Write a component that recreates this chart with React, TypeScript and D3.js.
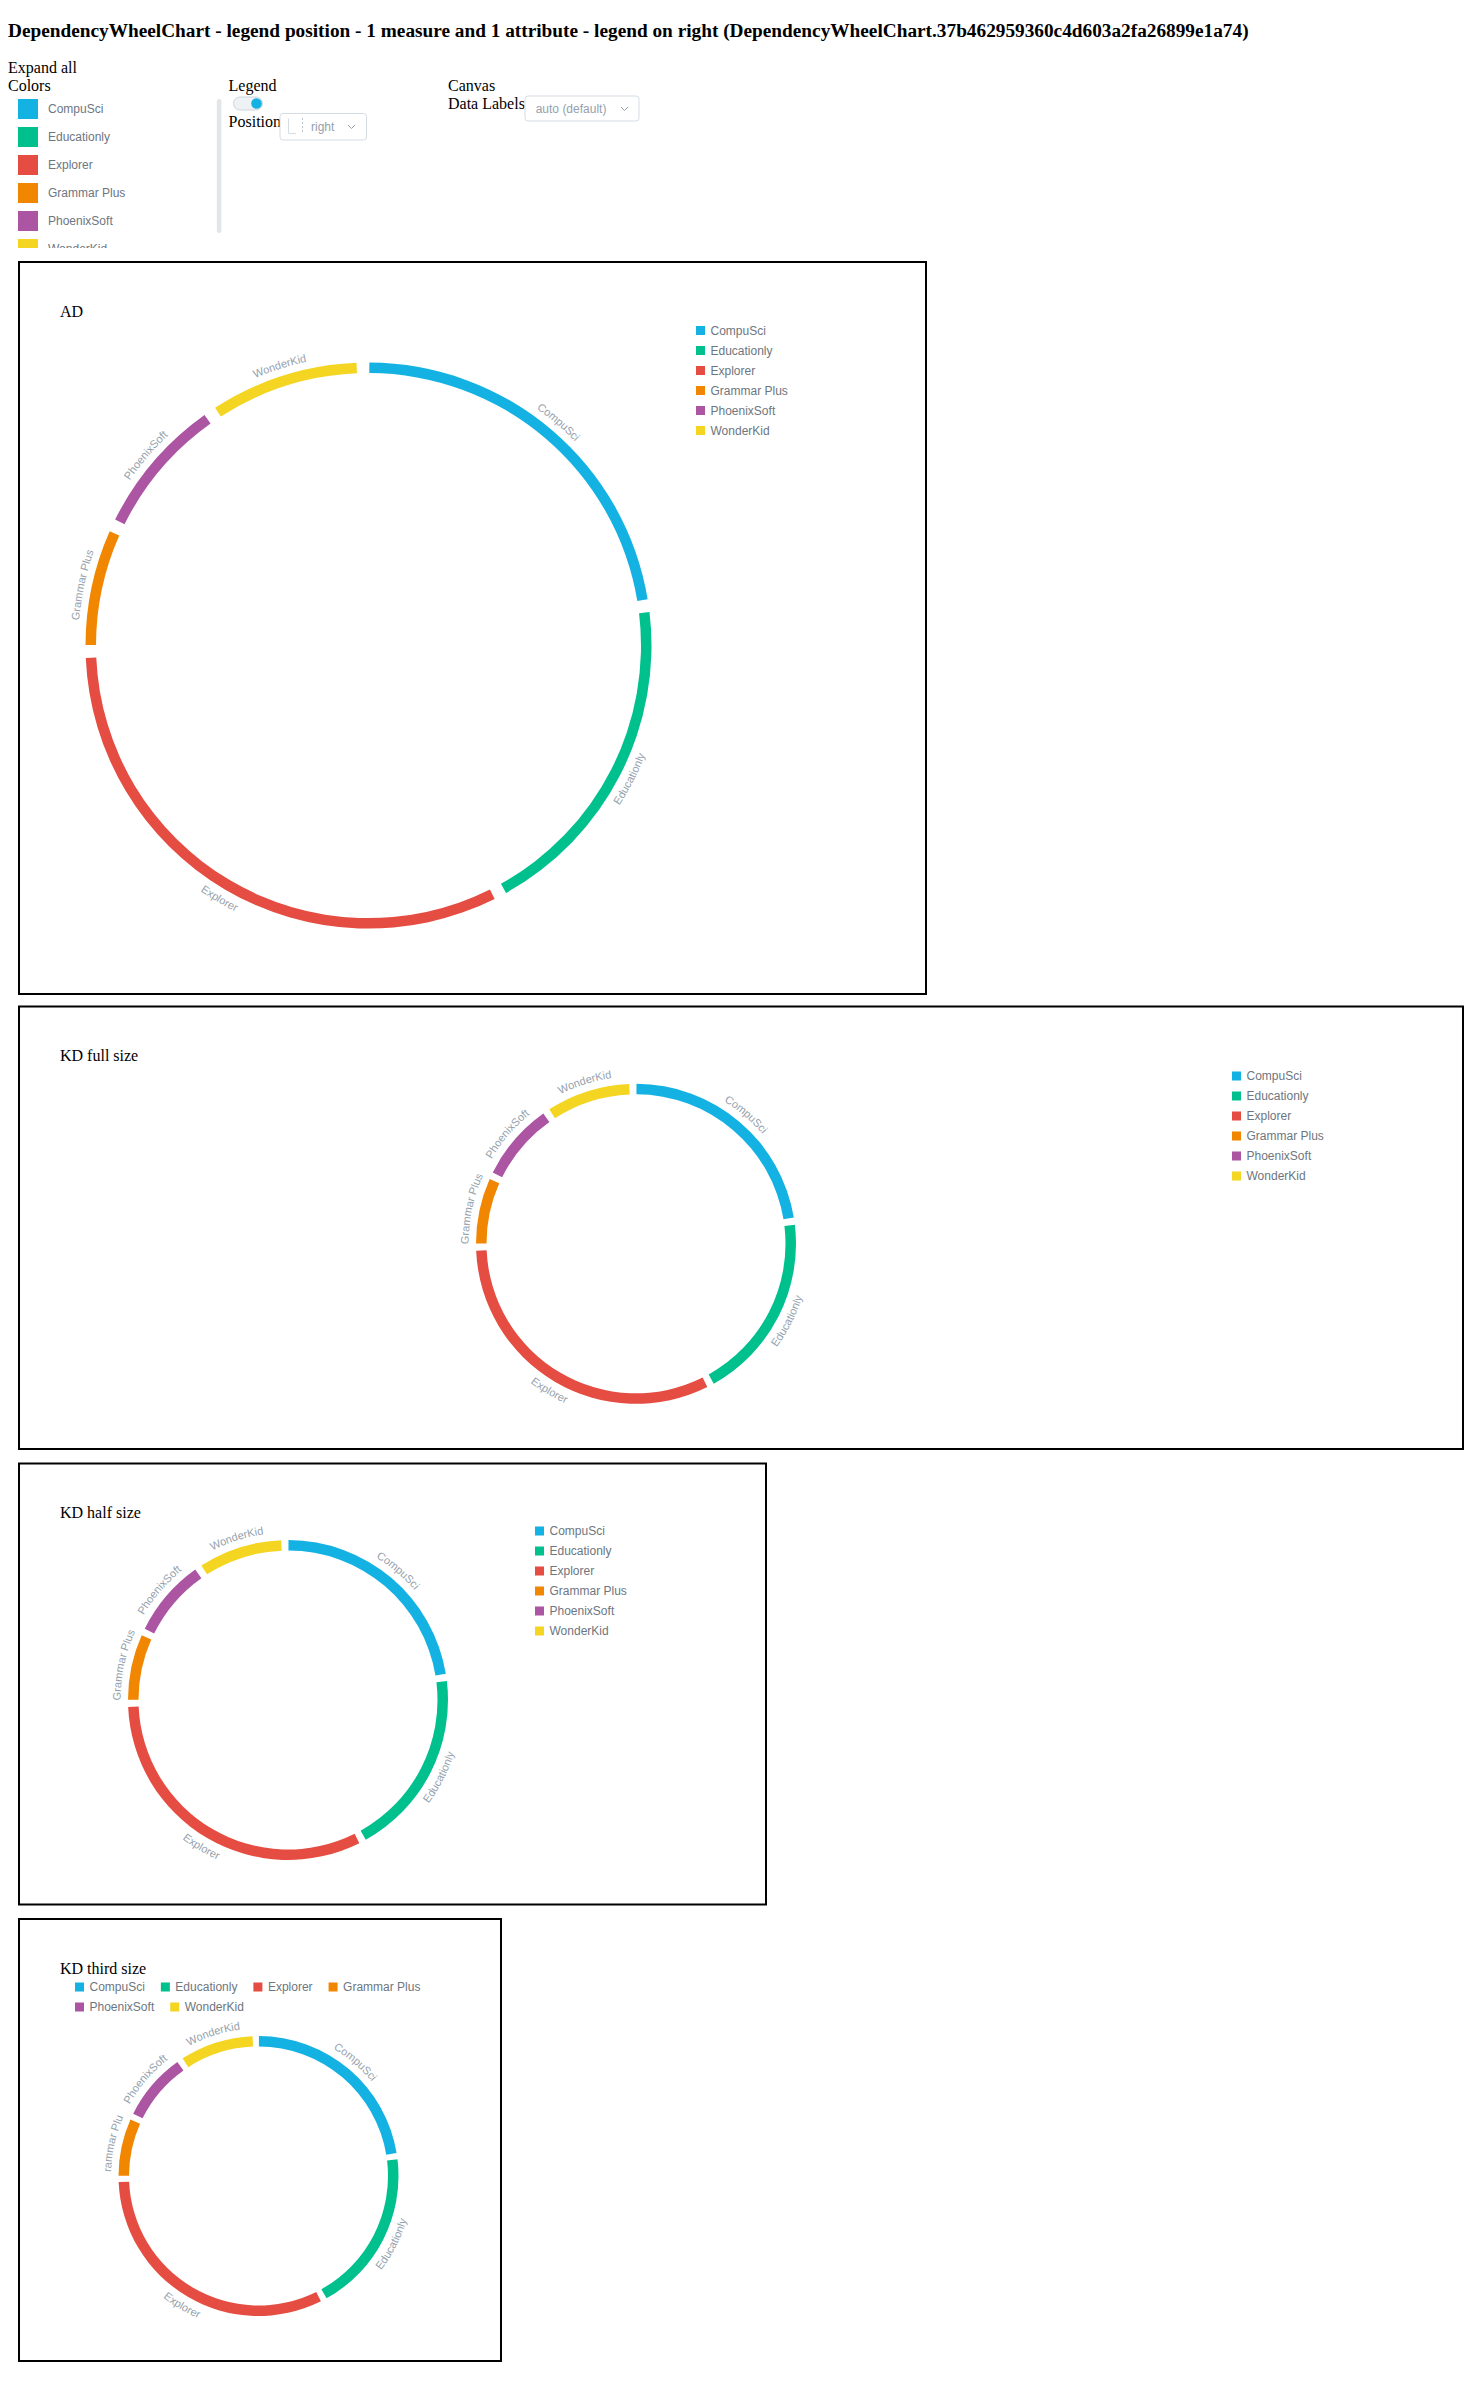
import React from 'react';
import * as d3 from 'd3';

// Product attribute and the single measure (amount per product)
const products = ['CompuSci', 'Educationly', 'Explorer', 'Grammar Plus', 'PhoenixSoft', 'WonderKid'];
const amounts = [27222899.64, 22946895.47, 38596194.86, 8042031.92, 9525857.91, 10291576.74];
const colors = ['#14b2e2', '#00c18d', '#e54d42', '#f18600', '#ab55a3', '#f4d521'];

const pageTitle =
  'DependencyWheelChart - legend position - 1 measure and 1 attribute - legend on right (DependencyWheelChart.37b462959360c4d603a2fa26899e1a74)';

// chart boxes: position, wheel centre/radius (relative to box) and legend placement
const boxes = [
  { id: 'ad', title: 'AD', x: 18, y: 261, w: 909, h: 734, cx: 350.5, cy: 384.6, r: 283, legend: 'right', lx: 678, ly: 69.5 },
  { id: 'full', title: 'KD full size', x: 18, y: 1005.5, w: 1446, h: 444.5, cx: 618, cy: 238.3, r: 160, legend: 'right', lx: 1214, ly: 70.5 },
  { id: 'half', title: 'KD half size', x: 18, y: 1462.5, w: 749, h: 443, cx: 270, cy: 237.5, r: 160, legend: 'right', lx: 517, ly: 68.5 },
  { id: 'third', title: 'KD third size', x: 18, y: 1918, w: 484, h: 444, cx: 240.5, cy: 258, r: 140, legend: 'top', lx: 57, ly: 69 },
];

const FONT = 'Arial, "Liberation Sans", sans-serif';
const SERIF = '"Liberation Serif", "Times New Roman", serif';
const legendColor = '#6d7680';
const labelColor = '#94a1ad';
const RING = 10.5;
const PAD = (2.6 * Math.PI) / 180;

let ctx: CanvasRenderingContext2D | null = null;
function textWidth(s: string, font = `12px ${FONT}`) {
  if (!ctx) ctx = document.createElement('canvas').getContext('2d');
  if (!ctx) return s.length * 6.5;
  ctx.font = font;
  return ctx.measureText(s).width;
}

function Wheel({ id, r }: { id: string; r: number }) {
  const pie = d3.pie<number>().sort(null).value(d => d).padAngle(PAD);
  const arcs = pie(amounts);
  const arc = d3.arc<any>().innerRadius(r - RING).outerRadius(r).padAngle(0);

  return (
    <g>
      {arcs.map((a, i) => {
        // node starts at its slot start, padding follows it
        const s = a.startAngle + 0.003;
        const e = a.endAngle - PAD + 0.003;
        const mid = (s + e) / 2;
        const flip = mid > Math.PI / 2 && mid < (3 * Math.PI) / 2;
        const lr = flip ? r + 14.5 : r + 7.5;
        const p = d3.path();
        if (flip) p.arc(0, 0, lr, e - Math.PI / 2, s - Math.PI / 2, true);
        else p.arc(0, 0, lr, s - Math.PI / 2, e - Math.PI / 2, false);
        const pid = `lp-${id}-${i}`;
        return (
          <g key={products[i]}>
            <path d={arc({ startAngle: s, endAngle: e }) || ''} fill={colors[i]} />
            <path id={pid} d={p.toString()} fill="none" stroke="none" />
            <text fontFamily={FONT} fontSize={11} fill={labelColor}>
              <textPath href={`#${pid}`} startOffset="50%" textAnchor="middle">
                {products[i]}
              </textPath>
            </text>
          </g>
        );
      })}
    </g>
  );
}

function Legend({ mode, maxW }: { mode: string; maxW: number }) {
  if (mode === 'right') {
    return (
      <g>
        {products.map((p, i) => (
          <g key={p} transform={`translate(0,${i * 20})`}>
            <rect x={0} y={-4.5} width={9} height={9} fill={colors[i]} />
            <text x={14.5} y={0} dy="0.35em" fontFamily={FONT} fontSize={12} fill={legendColor}>
              {p}
            </text>
          </g>
        ))}
      </g>
    );
  }
  // horizontal legend that wraps into rows
  let x = 0;
  let row = 0;
  const items = products.map((p, i) => {
    const w = 14.5 + textWidth(p);
    if (x > 0 && x + w > maxW) {
      x = 0;
      row += 1;
    }
    const item = { p, i, x, y: row * 20 };
    x += w + 16;
    return item;
  });
  return (
    <g>
      {items.map(it => (
        <g key={it.p} transform={`translate(${it.x},${it.y})`}>
          <rect x={0} y={-4.5} width={9} height={9} fill={colors[it.i]} />
          <text x={14.5} y={0} dy="0.35em" fontFamily={FONT} fontSize={12} fill={legendColor}>
            {it.p}
          </text>
        </g>
      ))}
    </g>
  );
}

function Controls() {
  return (
    <g>
      <text x={8} y={73.3} fontFamily={SERIF} fontSize={16}>Expand all</text>
      <text x={8} y={90.6} fontFamily={SERIF} fontSize={16}>Colors</text>
      <clipPath id="colorsClip">
        <rect x={0} y={95} width={214} height={153} />
      </clipPath>
      <g clipPath="url(#colorsClip)">
        {products.map((p, i) => (
          <g key={p} transform={`translate(18,${99 + i * 28})`}>
            <rect width={20} height={20} fill={colors[i]} />
            <text x={30} y={10} dy="0.35em" fontFamily={FONT} fontSize={12} fill={legendColor}>
              {p}
            </text>
          </g>
        ))}
      </g>
      <rect x={216.8} y={99} width={4.6} height={134} rx={2.3} fill="#e3e6e9" />

      <text x={228.6} y={90.6} fontFamily={SERIF} fontSize={16}>Legend</text>
      <rect x={233.5} y={97} width={29} height={13} rx={6.5} fill="#eef2f5" stroke="#ccd5dd" />
      <circle cx={256.5} cy={103.5} r={5.3} fill="#14b2e2" />
      <text x={228.6} y={127} fontFamily={SERIF} fontSize={16}>Position</text>
      <rect x={280} y={113.5} width={86.5} height={26.5} rx={3} fill="#fff" stroke="#d5dde4" />
      <path d="M288.5,118.5 V133.5 H296" fill="none" stroke="#d5dde4" />
      <line x1={302.5} y1={118} x2={302.5} y2={134} stroke="#b9c4cf" strokeDasharray="2,2" />
      <text x={311} y={127} dy="0.35em" fontFamily={FONT} fontSize={12} fill={labelColor}>right</text>
      <path d="M348,125 L351.5,128.5 L355,125" fill="none" stroke={labelColor} />

      <text x={448} y={90.6} fontFamily={SERIF} fontSize={16}>Canvas</text>
      <text x={448} y={109.3} fontFamily={SERIF} fontSize={16}>Data Labels</text>
      <rect x={525} y={96} width={114} height={25} rx={3} fill="#fff" stroke="#d5dde4" />
      <text x={535.7} y={109} dy="0.35em" fontFamily={FONT} fontSize={12} fill={labelColor}>auto (default)</text>
      <path d="M621,107 L624.5,110.5 L628,107" fill="none" stroke={labelColor} />
    </g>
  );
}

export default function App() {
  return (
    <div style={{ position: 'absolute', left: 0, top: 0 }}>
      <svg width={1464} height={2390} style={{ display: 'block' }}>
        <rect width={1464} height={2390} fill="#fff" />
        <text x={8} y={36.5} fontFamily={SERIF} fontSize={19.3} fontWeight="bold">
          {pageTitle}
        </text>
        <Controls />
        {boxes.map(b => (
          <g key={b.id} transform={`translate(${b.x},${b.y})`}>
            <rect x={1} y={1} width={b.w - 2} height={b.h - 2} fill="none" stroke="#000" strokeWidth={2} />
            <text x={42} y={55.5} fontFamily={SERIF} fontSize={16}>
              {b.title}
            </text>
            <g transform={`translate(${b.cx},${b.cy})`}>
              <Wheel id={b.id} r={b.r} />
            </g>
            <g transform={`translate(${b.lx},${b.ly})`}>
              <Legend mode={b.legend} maxW={b.w - b.lx - 20} />
            </g>
          </g>
        ))}
      </svg>
    </div>
  );
}
